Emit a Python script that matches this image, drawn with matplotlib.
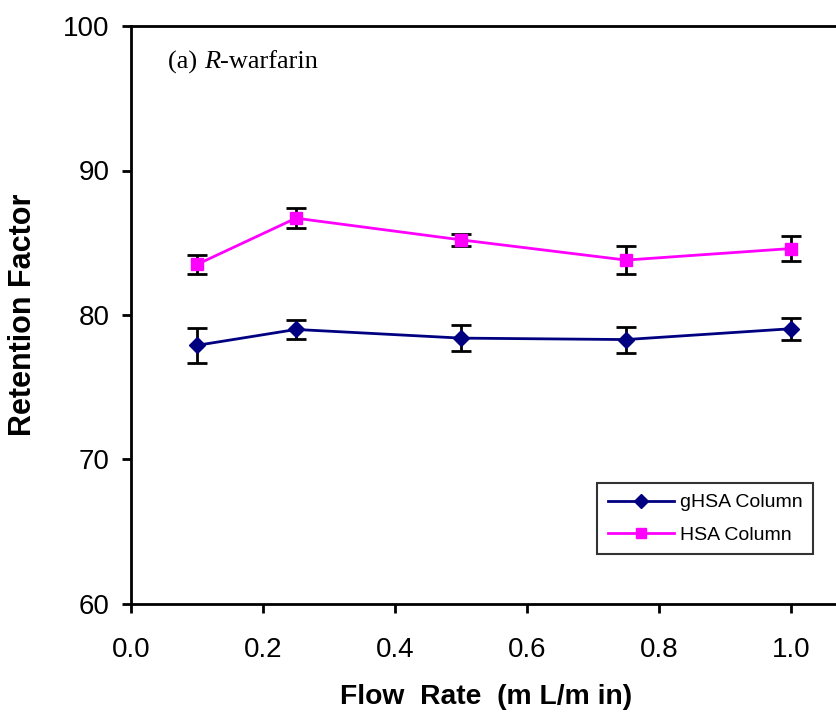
import matplotlib
matplotlib.use("Agg")
import matplotlib.pyplot as plt
from matplotlib.ticker import MultipleLocator, FormatStrFormatter

plt.rcParams['font.family'] = ['Liberation Sans', 'DejaVu Sans']

flow_rate = [0.1, 0.25, 0.5, 0.75, 1.0]
ghsa_values = [77.9, 79.0, 78.4, 78.3, 79.05]
ghsa_err = [1.2, 0.65, 0.9, 0.9, 0.75]
hsa_values = [83.5, 86.7, 85.2, 83.8, 84.6]
hsa_err = [0.65, 0.7, 0.4, 0.95, 0.85]
x_ticks = [0.0, 0.2, 0.4, 0.6, 0.8, 1.0]

fig = plt.figure(figsize=(8.36, 7.19), dpi=100)
W, H = 836, 719
ax = fig.add_axes([131 / W, (H - 604) / H, 792 / W, 578 / H])

navy = '#000080'
magenta = '#FF00FF'

ax.errorbar(flow_rate, ghsa_values, yerr=ghsa_err, fmt='none', ecolor='black',
            elinewidth=2, capsize=7, capthick=2, zorder=2)
ax.errorbar(flow_rate, hsa_values, yerr=hsa_err, fmt='none', ecolor='black',
            elinewidth=2, capsize=7, capthick=2, zorder=2)
l1, = ax.plot(flow_rate, ghsa_values, color=navy, lw=2.0, marker='D', ms=8.5,
              markeredgecolor=navy, markerfacecolor=navy, zorder=3, label='gHSA Column')
l2, = ax.plot(flow_rate, hsa_values, color=magenta, lw=2.0, marker='s', ms=8.5,
              markeredgecolor=magenta, markerfacecolor=magenta, zorder=3, label='HSA Column')

ax.set_xlim(0, 1.2)
ax.set_ylim(60, 100)
ax.set_xticks(x_ticks)
ax.yaxis.set_major_locator(MultipleLocator(10))
ax.xaxis.set_major_formatter(FormatStrFormatter('%.1f'))

for s in ['left', 'bottom', 'top']:
    ax.spines[s].set_linewidth(2.0)
ax.spines['right'].set_visible(False)

ax.tick_params(axis='x', direction='out', length=6.5, width=2, labelsize=20, pad=17)
ax.tick_params(axis='y', direction='out', length=6.5, width=2, labelsize=20, pad=9)

ax.set_xlabel('Flow  Rate  (m L/m in)', fontsize=20.3, fontweight='bold')
ax.xaxis.set_label_coords((486 - 131) / 792, -(697 - 604) / 578)
ax.xaxis.label.set_va('center')
ax.set_ylabel('Retention Factor', fontsize=22, fontweight='bold')
ax.yaxis.set_label_coords(-(131 - 23) / 792, 0.5)
ax.yaxis.label.set_va('center')

# title text "(a) R-warfarin" with italic R
ty = 1 - (62 - 26) / 578
tx = (168 - 131) / 792
fig.canvas.draw()
r = fig.canvas.get_renderer()
inv = ax.transAxes.inverted()
t1 = ax.text(tx, ty, '(a) ', transform=ax.transAxes, fontsize=19,
             family='Liberation Serif', va='center', ha='left')
bb = t1.get_window_extent(r)
x2 = inv.transform((bb.x1, bb.y0))[0]
t2 = ax.text(x2, ty, 'R', transform=ax.transAxes, fontsize=19,
             family='Liberation Serif', style='italic', va='center', ha='left')
bb2 = t2.get_window_extent(r)
x3 = inv.transform((bb2.x1, bb2.y0))[0]
ax.text(x3, ty, '-warfarin', transform=ax.transAxes, fontsize=19,
        family='Liberation Serif', va='center', ha='left')

leg = fig.legend(handles=[l1, l2], loc='upper left',
                 bbox_to_anchor=(597 / W, 1 - 483 / H), fontsize=14,
                 frameon=True, fancybox=False, edgecolor='black', numpoints=1,
                 handlelength=3.4, borderpad=0.55, labelspacing=0.75,
                 handletextpad=0.3, borderaxespad=0, markerscale=0.85)
leg.get_frame().set_linewidth(1.5)

fig.savefig('out.png', dpi=100)
